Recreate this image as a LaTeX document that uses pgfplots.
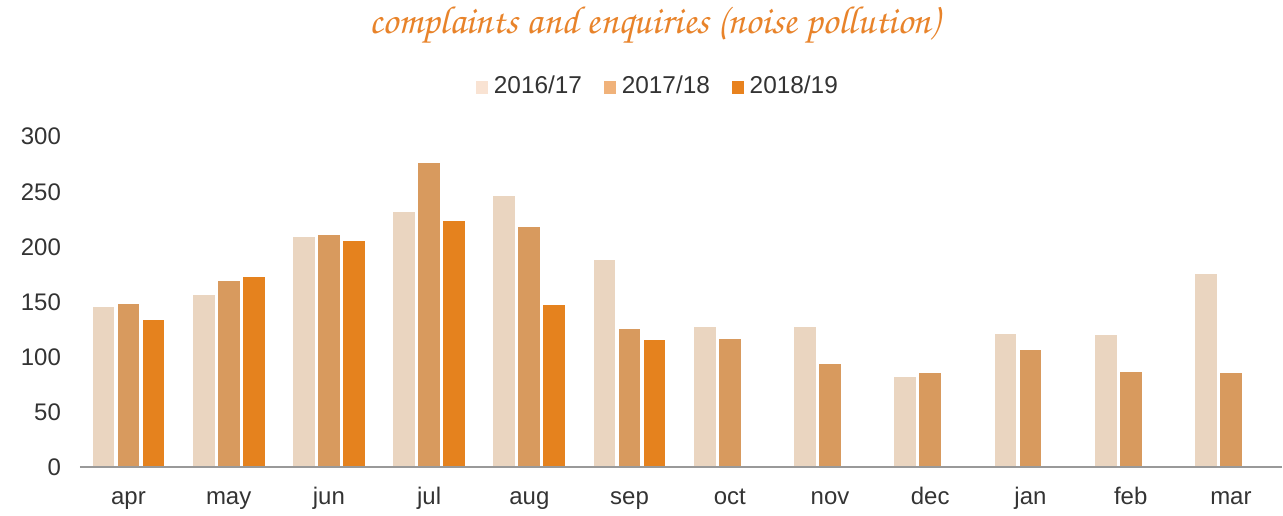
\documentclass[border=0pt]{standalone}
\usepackage{fontspec}
\setmainfont{Liberation Sans}
\newfontfamily\ttlfont{texgyrechorus-mediumitalic.otf}
\usepackage{pgfplots}
\pgfplotsset{compat=1.18}
\definecolor{cA}{HTML}{EAD5C0}
\definecolor{cB}{HTML}{D89A5E}
\definecolor{cC}{HTML}{E5821E}
\definecolor{lA}{HTML}{F9E3D3}
\definecolor{lB}{HTML}{F0B27A}
\definecolor{lC}{HTML}{E8821E}
\definecolor{ttl}{HTML}{E8832A}
\definecolor{txt}{HTML}{333333}
\pgfplotsset{sqleg/.style={legend image code/.code={\fill[#1] (0pt,-3.6pt) rectangle (5.5pt,1.9pt);}}}

\begin{document}
\begin{tikzpicture}[x=1pt,y=1pt]
\path (0,0) rectangle (641.5,254.5);
\node[text=ttl, font=\ttlfont\fontsize{19.6}{22}\selectfont] at (327.5,242.5) {complaints and enquiries (noise pollution)};
\begin{axis}[at={(40pt,21pt)}, anchor=south west, scale only axis,
  width=601.5pt, height=165.5pt,
  xmin=-0.484, xmax=11.51, ymin=0, ymax=300,
  ybar, bar width=11.5pt, axis on top,
  axis x line*=bottom, axis y line*=left,
  y axis line style={draw=none},
  x axis line style={draw=black!40, line width=1pt, -},
  major tick length=0pt,
  ytick={0,50,...,300},
  xtick={0,...,11},
  xticklabels={apr,may,jun,jul,aug,sep,oct,nov,dec,jan,feb,mar},
  /pgf/number format/assume math mode=true,
  tick label style={font=\fontsize{12}{14}\selectfont, text=txt},
  yticklabel style={xshift=-6pt},
  xticklabel style={text height=9pt, text depth=2.5pt, yshift=-5.8pt},
  legend style={at={(rel axis cs:0.4817,1)}, anchor=center, yshift=25.5pt,
    draw=none, fill=none, legend columns=3, font=\fontsize{12.2}{14}\selectfont, text=txt,
    /tikz/every even column/.append style={column sep=9pt},
    /tikz/every odd column/.append style={column sep=0.8pt}},
  legend cell align=left]
\addplot[fill=cA, draw=white, line width=0.6pt, bar shift=-12.5pt, sqleg=lA] coordinates {
 (0,146) (1,157) (2,210) (3,232) (4,247) (5,189) (6,128) (7,128) (8,83) (9,122) (10,121) (11,176)};
\addlegendentry{2016/17}
\addplot[fill=cB, draw=white, line width=0.6pt, bar shift=0pt, sqleg=lB] coordinates {
 (0,149) (1,170) (2,211) (3,277) (4,219) (5,126) (6,117) (7,94) (8,86) (9,107) (10,87) (11,86)};
\addlegendentry{2017/18}
\addplot[fill=cC, draw=white, line width=0.6pt, bar shift=12.5pt, sqleg=lC] coordinates {
 (0,134) (1,173) (2,206) (3,224) (4,148) (5,116)};
\addlegendentry{2018/19}
\end{axis}
\end{tikzpicture}
\end{document}
